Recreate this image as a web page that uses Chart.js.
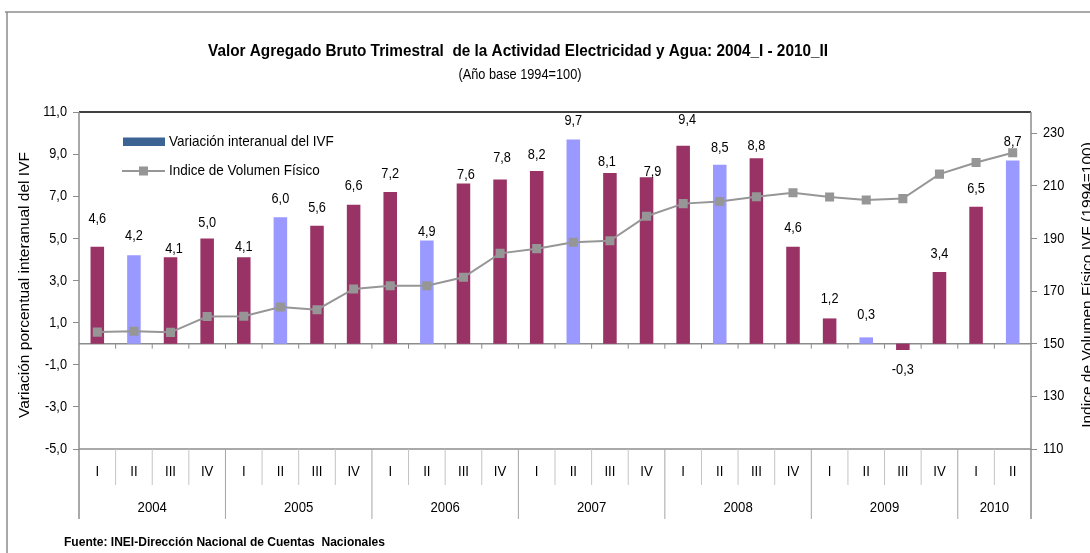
<!DOCTYPE html>
<html><head><meta charset="utf-8">
<script src="https://cdn.jsdelivr.net/npm/chart.js@4.4.0/dist/chart.umd.min.js"></script>
<style>html,body{margin:0;padding:0;background:#fff;overflow:hidden}</style>
</head><body>
<canvas id="c" width="1090" height="553"></canvas>
<script>
// ---- data ----
const years = ['2004','2005','2006','2007','2008','2009','2010'];
const quarters = ['I','II','III','IV','I','II','III','IV','I','II','III','IV','I','II','III','IV','I','II','III','IV','I','II','III','IV','I','II'];
const variacion = [4.6,4.2,4.1,5.0, 4.1,6.0,5.6,6.6, 7.2,4.9,7.6,7.8, 8.2,9.7,8.1,7.9, 9.4,8.5,8.8,4.6, 1.2,0.3,-0.3,3.4, 6.5,8.7];
const indice = [154.4,154.7,154.3,160.3, 160.4,163.9,162.9,170.8, 172.0,172.0,175.2,184.3, 186.1,188.5,189.1,198.4, 203.2,204.0,205.8,207.3, 205.7,204.6,205.1,214.4, 218.8,222.5];
const leftTicks = [-5,-3,-1,1,3,5,7,9,11];
const rightTicks = [110,130,150,170,190,210,230];

// ---- label placement (axis units / px shifts) ----
const labelY = [5.95,5.13,4.50,5.76, 4.61,6.87,6.46,7.49, 8.06,5.29,8.01,8.80, 8.97,10.57,8.61,8.17, 10.62,9.31,9.40,5.48, 2.11,1.36,-1.25,4.26, 7.35,9.59];
const labelDX = {2:3.5, 10:2.5, 11:2, 14:-3, 15:6, 16:4};

const FONT = '"Liberation Sans", Arial, sans-serif';
function txt(ctx, s, x, y, o) {
  ctx.save();
  ctx.font = (o.bold ? 'bold ' : '') + o.size + 'px ' + FONT;
  ctx.fillStyle = o.color || '#000';
  ctx.textBaseline = o.baseline || 'middle';
  ctx.textAlign = o.align || 'center';
  ctx.translate(x, y);
  if (o.rotate) ctx.rotate(o.rotate);
  let sx = o.sx || 1;
  if (o.width) sx = o.width / ctx.measureText(s).width;
  ctx.scale(sx, o.sy || 1);
  ctx.fillText(s, 0, 0);
  ctx.restore();
}
function line(ctx, x1, y1, x2, y2, color, w) {
  ctx.save(); ctx.strokeStyle = color; ctx.lineWidth = w;
  ctx.beginPath(); ctx.moveTo(x1, y1); ctx.lineTo(x2, y2); ctx.stroke(); ctx.restore();
}

const decor = {
  id: 'decor',
  beforeDatasetsDraw(chart) {
    const ctx = chart.ctx, a = chart.chartArea;
    const xs = chart.scales.x, ys = chart.scales.y;
    const y0 = ys.getPixelForValue(0);
    const n = quarters.length;
    const bound = i => i === 0 ? a.left : (i === n ? a.right : (xs.getPixelForValue(i - 1) + xs.getPixelForValue(i)) / 2);
    line(ctx, a.left, y0, a.right, y0, '#8c8c8c', 1.5);
    for (let i = 1; i < n; i++) line(ctx, bound(i), y0, bound(i), y0 + 5, '#8c8c8c', 1);
  },
  afterDatasetsDraw(chart) {
    const ctx = chart.ctx, a = chart.chartArea;
    const xs = chart.scales.x, ys = chart.scales.y, y2 = chart.scales.y2;
    const n = quarters.length;
    const bound = i => i === 0 ? a.left : (i === n ? a.right : (xs.getPixelForValue(i - 1) + xs.getPixelForValue(i)) / 2);
    // outer frame
    line(ctx, 5, 12, 1090, 12, '#8c8c8c', 1.5);
    line(ctx, 7, 12, 7, 553, '#8c8c8c', 1.5);
    // plot frame
    line(ctx, a.left, a.top, a.right, a.top, '#000', 1.5);
    line(ctx, a.left, a.top, a.left, 519, '#8c8c8c', 1.5);
    line(ctx, a.right, a.top, a.right, 519, '#8c8c8c', 1.5);
    line(ctx, a.left, a.bottom, a.right, a.bottom, '#8c8c8c', 1.5);
    // category separators
    for (let i = 1; i < n; i++) {
      const yearStart = quarters[i] === 'I';
      line(ctx, bound(i), a.bottom, bound(i), yearStart ? 519 : 485, yearStart ? '#a6a6a6' : '#c4c4c4', 1);
    }
    // quarter labels
    quarters.forEach((q, i) => txt(ctx, q, xs.getPixelForValue(i), 472, {size: 15, sx: 0.88}));
    // year labels
    let yi = -1, start = 0;
    const spans = [];
    quarters.forEach((q, i) => { if (q === 'I') { if (yi >= 0) spans.push([start, i - 1]); yi++; start = i; } });
    spans.push([start, n - 1]);
    spans.forEach((s, k) => {
      const cx = (xs.getPixelForValue(s[0]) + xs.getPixelForValue(s[1])) / 2;
      txt(ctx, years[k], cx, 508, {size: 15, sx: 0.88});
    });
    // y tick labels
    leftTicks.forEach(v => txt(ctx, v.toFixed(1).replace('.', ','), 67, ys.getPixelForValue(v), {size: 15, sx: 0.85, align: 'right'}));
    rightTicks.forEach(v => txt(ctx, String(v), 1043, y2.getPixelForValue(v), {size: 15, sx: 0.85, align: 'left'}));
    // axis titles
    txt(ctx, 'Variación porcentual interanual del IVF', 29, 285, {size: 15.5, rotate: -Math.PI / 2, baseline: 'alphabetic', sy: 0.9});
    txt(ctx, 'Indice de Volumen Físico IVF (1994=100)', 1092, 285, {size: 15.5, rotate: -Math.PI / 2, baseline: 'alphabetic', sy: 0.9});
    // data labels
    const meta = chart.getDatasetMeta(1);
    meta.data.forEach((bar, i) => {
      const s = variacion[i].toFixed(1).replace('.', ',');
      txt(ctx, s, bar.x + (labelDX[i] || 0), ys.getPixelForValue(labelY[i]), {size: 15, sx: 0.85});
    });
    // legend
    ctx.save(); ctx.fillStyle = '#3b6494'; ctx.fillRect(123, 137.5, 42, 8.5); ctx.restore();
    txt(ctx, 'Variación interanual del IVF', 169, 142, {size: 15, sx: 0.9, align: 'left'});
    line(ctx, 122, 171, 165, 171, '#969696', 2);
    ctx.save(); ctx.fillStyle = '#969696'; ctx.fillRect(139, 166.5, 9, 9); ctx.restore();
    txt(ctx, 'Indice de Volumen Físico', 169, 171, {size: 15, sx: 0.9, align: 'left'});
    // titles
    txt(ctx, 'Valor Agregado Bruto Trimestral  de la Actividad Electricidad y Agua: 2004_I - 2010_II', 518, 51, {size: 16.5, bold: true, width: 620});
    txt(ctx, '(Año base 1994=100)', 520, 75, {size: 14.5, sx: 0.88});
    txt(ctx, 'Fuente: INEI-Dirección Nacional de Cuentas  Nacionales', 64, 543, {size: 12.5, bold: true, width: 321, align: 'left'});
  }
};

new Chart(document.getElementById('c').getContext('2d'), {
  type: 'bar',
  data: {
    labels: quarters,
    datasets: [
      {type: 'line', label: 'Indice de Volumen Físico', data: indice, yAxisID: 'y2',
       borderColor: '#969696', borderWidth: 2, pointStyle: 'rect', pointRadius: 6.4,
       pointBackgroundColor: '#969696', pointBorderColor: '#969696', pointBorderWidth: 0,
       tension: 0, order: 0},
      {type: 'bar', label: 'Variación interanual del IVF', data: variacion, yAxisID: 'y',
       backgroundColor: quarters.map(q => q === 'II' ? '#9999ff' : '#993366'),
       barPercentage: 0.37, categoryPercentage: 1, order: 1}
    ]
  },
  options: {
    responsive: false, animation: false, devicePixelRatio: 1,
    layout: {padding: {top: 112, bottom: 104, left: 0, right: 0}},
    plugins: {legend: {display: false}, tooltip: {enabled: false}, title: {display: false}},
    scales: {
      x: {display: false, offset: true},
      y: {position: 'left', min: -5, max: 11,
          ticks: {stepSize: 2, display: false},
          afterBuildTicks: s => { s.ticks = leftTicks.map(v => ({value: v})); },
          grid: {drawOnChartArea: false, drawTicks: true, tickLength: 6, color: '#8c8c8c', lineWidth: 1},
          border: {display: false},
          afterFit: s => { s.width = 79; }},
      y2: {position: 'right', min: 110, max: 238,
          ticks: {stepSize: 20, display: false},
          afterBuildTicks: s => { s.ticks = rightTicks.map(v => ({value: v})); },
          grid: {drawOnChartArea: false, drawTicks: true, tickLength: 6, color: '#8c8c8c', lineWidth: 1},
          border: {display: false},
          afterFit: s => { s.width = 59; }}
    }
  },
  plugins: [decor]
});
</script>
</body></html>
